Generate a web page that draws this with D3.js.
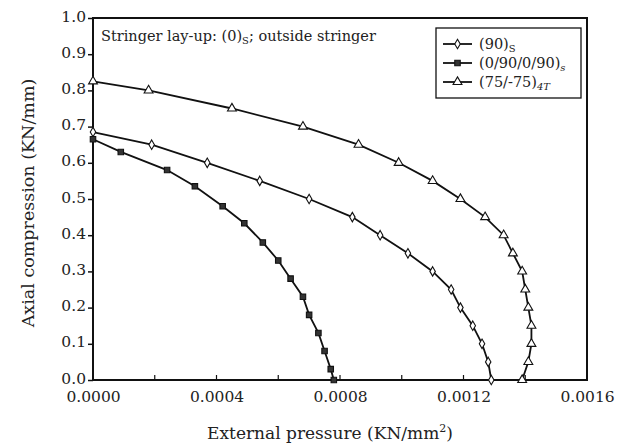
<!DOCTYPE html>
<head>
  <meta charset="utf-8">
  <script src="https://d3js.org/d3.v7.min.js"></script>
  <style>
    body { margin: 0; background: #fff; }
    text { font-family: "DejaVu Serif", serif; fill: #222; }
  </style>
</head>
<body>
<svg width="618" height="445"></svg>
<script>

  // (90)s  -- open diamonds
  let series90 = [
    [0, 0.685], [0.00019, 0.65], [0.00037, 0.60], [0.00054, 0.55], [0.00070, 0.50],
    [0.00084, 0.45], [0.00093, 0.40], [0.00102, 0.35], [0.00110, 0.30], [0.00116, 0.25],
    [0.00119, 0.20], [0.00123, 0.15], [0.00126, 0.10], [0.00128, 0.05], [0.00129, 0.0]
  ];
  // (0/90/0/90)s -- filled squares
  let series0909 = [
    [0, 0.665], [0.00009, 0.63], [0.00024, 0.58], [0.00033, 0.535], [0.00042, 0.48],
    [0.00049, 0.433], [0.00055, 0.38], [0.00060, 0.33], [0.00064, 0.28], [0.00068, 0.23],
    [0.00070, 0.18], [0.00073, 0.13], [0.00075, 0.08], [0.00077, 0.03], [0.00078, 0.0]
  ];
  // (75/-75)4T -- open triangles
  let series75 = [
    [0, 0.825], [0.00018, 0.80], [0.00045, 0.75], [0.00068, 0.70], [0.00086, 0.65],
    [0.00099, 0.60], [0.00110, 0.55], [0.00119, 0.50], [0.00127, 0.45], [0.00133, 0.40],
    [0.00136, 0.35], [0.00139, 0.30], [0.00140, 0.25], [0.00141, 0.20], [0.00142, 0.15],
    [0.00142, 0.10], [0.00141, 0.05], [0.00139, 0.0]
  ];

  let xTicks = [0, 0.0004, 0.0008, 0.0012, 0.0016];
  let xMinor = [0.0002, 0.0006, 0.0010, 0.0014];
  let yTicks = d3.range(0, 11).map(d => d / 10);

  let svg = d3.select("svg"),
    plotLeft = 93, plotRight = 587, plotTop = 18, plotBottom = 380;

  let x = d3.scaleLinear().domain([0, 0.0016]).range([plotLeft, plotRight]);
  let y = d3.scaleLinear().domain([0, 1]).range([plotBottom, plotTop]);

  // frame
  svg.append("rect")
    .attr("x", plotLeft).attr("y", plotTop)
    .attr("width", plotRight - plotLeft).attr("height", plotBottom - plotTop)
    .attr("fill", "none").attr("stroke", "#111").attr("stroke-width", 2);

  // y axis
  let yAxis = svg.append("g")
    .attr("transform", `translate(${plotLeft},0)`)
    .call(d3.axisLeft(y).tickValues(yTicks).tickFormat(d3.format(".1f")).tickSize(5).tickPadding(2));
  yAxis.select(".domain").remove();
  yAxis.selectAll("line").attr("stroke", "#111").attr("stroke-width", 1.5);
  yAxis.selectAll("text").style("font-size", "15.5px").attr("fill", "#222").attr("dy", "0.2em");

  // x axis
  let xAxis = svg.append("g")
    .attr("transform", `translate(0,${plotBottom})`)
    .call(d3.axisBottom(x).tickValues(xTicks).tickFormat(d3.format(".4f")).tickSize(0).tickPadding(11));
  xAxis.select(".domain").remove();
  xAxis.selectAll("text").style("font-size", "15.5px").attr("fill", "#222");

  svg.append("g").selectAll("line")
    .data(xTicks.concat(xMinor))
    .join("line")
    .attr("x1", d => x(d)).attr("x2", d => x(d))
    .attr("y1", plotBottom).attr("y2", plotBottom - 5)
    .attr("stroke", "#111").attr("stroke-width", 1.2);

  // axis titles
  svg.append("text")
    .attr("transform", `translate(34,${(plotTop + plotBottom) / 2 + 4}) rotate(-90)`)
    .attr("text-anchor", "middle")
    .style("font-size", "17.5px")
    .text("Axial compression (KN/mm)");

  let xt = svg.append("text")
    .attr("x", (plotLeft + plotRight) / 2 - 10).attr("y", 439)
    .attr("text-anchor", "middle")
    .style("font-size", "17px");
  xt.append("tspan").text("External pressure (KN/mm");
  xt.append("tspan").attr("dy", -7).style("font-size", "11px").text("2");
  xt.append("tspan").attr("dy", 7).text(")");

  // annotation
  let ann = svg.append("text").attr("x", 101).attr("y", 41).style("font-size", "14.5px");
  ann.append("tspan").text("Stringer lay-up: (0)");
  ann.append("tspan").attr("dy", 3).style("font-size", "10px").text("S");
  ann.append("tspan").attr("dy", -3).text("; outside stringer");

  let line = d3.line().x(d => x(d[0])).y(d => y(d[1]));

  let series = [
    { data: series90, symbol: d3.symbolDiamond, size: 26, fill: "#fff" },
    { data: series0909, symbol: d3.symbolSquare, size: 30, fill: "#333" },
    { data: series75, symbol: d3.symbolTriangle, size: 34, fill: "#fff" }
  ];

  series.forEach(s => {
    svg.append("path")
      .datum(s.data)
      .attr("d", line)
      .attr("fill", "none")
      .attr("stroke", "#111")
      .attr("stroke-width", 1.8);

    svg.append("g").selectAll("path")
      .data(s.data)
      .join("path")
      .attr("transform", d => `translate(${x(d[0])},${y(d[1])})`)
      .attr("d", d3.symbol().type(s.symbol).size(s.size))
      .attr("fill", s.fill)
      .attr("stroke", "#111")
      .attr("stroke-width", 1.1);
  });

  // legend
  let lg = svg.append("g");
  lg.append("rect")
    .attr("x", 436).attr("y", 28).attr("width", 145).attr("height", 70)
    .attr("fill", "#fff").attr("stroke", "#111").attr("stroke-width", 1.3);

  let legendRows = [
    { s: series[0], y: 44, label: ["(90)", "S", false] },
    { s: series[1], y: 63, label: ["(0/90/0/90)", "s", true] },
    { s: series[2], y: 82, label: ["(75/-75)", "4T", true] }
  ];

  legendRows.forEach(r => {
    lg.append("line")
      .attr("x1", 443).attr("x2", 472).attr("y1", r.y).attr("y2", r.y)
      .attr("stroke", "#111").attr("stroke-width", 1.8);
    lg.append("path")
      .attr("transform", `translate(457.5,${r.y})`)
      .attr("d", d3.symbol().type(r.s.symbol).size(r.s.size))
      .attr("fill", r.s.fill).attr("stroke", "#111").attr("stroke-width", 1.1);
    let t = lg.append("text").attr("x", 479).attr("y", r.y + 5).style("font-size", "14.5px");
    t.append("tspan").text(r.label[0]);
    t.append("tspan").attr("dy", 3).style("font-size", "10px")
      .style("font-style", r.label[2] ? "italic" : "normal").text(r.label[1]);
  });

</script>
</body>
